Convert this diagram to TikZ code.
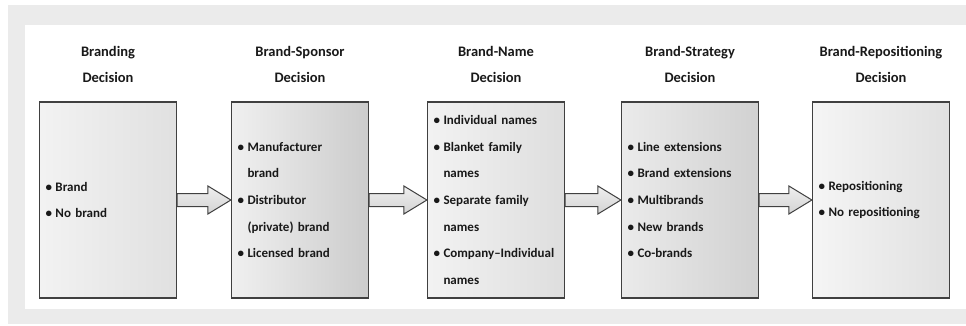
\documentclass[tikz,border=0pt]{standalone}
\usepackage{fontspec}
\setmainfont{Carlito}
\usepackage{tikz}
\usetikzlibrary{positioning, calc}

\tikzset{
  decbox/.style={draw=black!75, line width=1.2pt, minimum height=196pt,
    text width=125pt, inner xsep=6pt, align=left, text=black!90,
    font=\bfseries\fontsize{13}{26.7}\selectfont},
  dechead/.style={align=center, text=black!90, inner sep=3pt,
    font=\bfseries\fontsize{14.5}{26}\selectfont},
  fatarrow/.style={draw=black!75, line width=1pt, line join=miter,
    top color=gray!12, bottom color=gray!35}
}
\newcommand{\bul}{\makebox[10pt][l]{\textbullet}}
\newcommand{\cnt}{\hspace*{10pt}}
\newcommand{\blockarrow}[2]{%
  \draw[fatarrow] ($(#1.east)+(0,6.5)$) -- ($(#2.west)+(-23,6.5)$)
    -- ($(#2.west)+(-23,14)$) -- (#2.west) -- ($(#2.west)+(-23,-14)$)
    -- ($(#2.west)+(-23,-6.5)$) -- ($(#1.east)+(0,-6.5)$) -- cycle;}

\begin{document}
\begin{tikzpicture}[x=1pt, y=1pt]
\useasboundingbox (0,0) rectangle (966,-326);

% frame
\fill[gray!16] (8,-5) rectangle (966,-324);
\fill[white] (25,-25) rectangle (966,-309);

\node[decbox, left color=gray!10, right color=gray!24] (branding) at (108,-200)
  {\bul Brand\\ \bul No brand};
\node[decbox, left color=gray!12, right color=gray!40] (sponsor) at (300,-200)
  {\bul Manufacturer\\ \cnt brand\\ \bul Distributor\\ \cnt (private) brand\\ \bul Licensed brand};
\node[decbox, left color=gray!10, right color=gray!26] (bname) at (496,-200)
  {\bul Individual names\\ \bul Blanket family\\ \cnt names\\ \bul Separate family\\ \cnt names\\ \bul \mbox{Company--Individual}\\ \cnt names};
\node[decbox, left color=gray!16, right color=gray!36] (strategy) at (690,-200)
  {\bul Line extensions\\ \bul Brand extensions\\ \bul Multibrands\\ \bul New brands\\ \bul Co-brands};
\node[decbox, left color=gray!8, right color=gray!24] (repos) at (881,-200)
  {\bul Repositioning\\ \bul No repositioning};

\node[dechead, above=16pt of branding] (h-branding) {Branding\\Decision};
\node[dechead, above=16pt of sponsor] (h-sponsor) {Brand-Sponsor\\Decision};
\node[dechead, above=16pt of bname] (h-bname) {Brand-Name\\Decision};
\node[dechead, above=16pt of strategy] (h-strategy) {Brand-Strategy\\Decision};
\node[dechead, above=16pt of repos] (h-repos) {Brand-Repositioning\\Decision};

\blockarrow{branding}{sponsor}
\blockarrow{sponsor}{bname}
\blockarrow{bname}{strategy}
\blockarrow{strategy}{repos}

\end{tikzpicture}
\end{document}
